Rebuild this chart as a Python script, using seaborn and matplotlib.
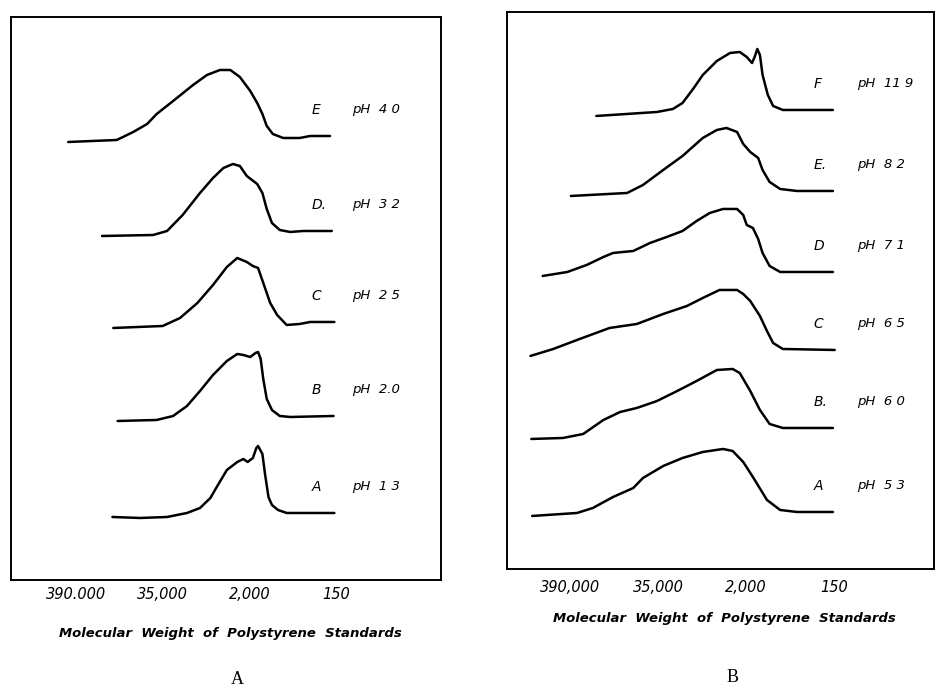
import numpy as np
import pandas as pd
import matplotlib
matplotlib.use("Agg")
import matplotlib.pyplot as plt
import seaborn as sns

# ---------------- data (elution position in tick units, detector response) -------------
tick_pos = [0, 1, 2, 3]
tick_labels_a = ["390.000", "35,000", "2,000", "150"]
tick_labels_b = ["390,000", "35,000", "2,000", "150"]

# Panel A
a_E_x = [-0.09, 0.47, 0.66, 0.82, 0.93, 1.12, 1.35, 1.51, 1.66, 1.78, 1.89, 2.01, 2.09, 2.15, 2.20, 2.27, 2.39, 2.58, 2.70, 2.93]
a_E_y = [43.8, 44.0, 44.8, 45.6, 46.6, 47.9, 49.5, 50.5, 51.0, 51.0, 50.3, 48.9, 47.7, 46.6, 45.4, 44.6, 44.2, 44.2, 44.4, 44.4]
a_D_x = [0.30, 0.89, 1.05, 1.23, 1.43, 1.58, 1.70, 1.81, 1.89, 1.97, 2.03, 2.09, 2.15, 2.20, 2.26, 2.35, 2.47, 2.62, 2.95]
a_D_y = [34.4, 34.5, 34.9, 36.5, 38.7, 40.2, 41.2, 41.6, 41.4, 40.4, 40.0, 39.6, 38.7, 37.1, 35.7, 35.0, 34.8, 34.9, 34.9]
a_C_x = [0.43, 1.00, 1.20, 1.40, 1.58, 1.74, 1.86, 1.97, 2.04, 2.10, 2.16, 2.24, 2.32, 2.43, 2.58, 2.70, 2.98]
a_C_y = [25.2, 25.4, 26.2, 27.7, 29.5, 31.3, 32.2, 31.8, 31.4, 31.2, 29.7, 27.7, 26.5, 25.5, 25.6, 25.8, 25.8]
a_B_x = [0.48, 0.93, 1.12, 1.28, 1.43, 1.58, 1.74, 1.86, 1.93, 2.01, 2.07, 2.10, 2.13, 2.16, 2.20, 2.26, 2.35, 2.47, 2.97]
a_B_y = [15.9, 16.0, 16.4, 17.4, 18.9, 20.5, 21.9, 22.6, 22.5, 22.3, 22.7, 22.8, 22.1, 20.1, 18.1, 17.0, 16.4, 16.3, 16.4]
a_A_x = [0.42, 0.74, 1.05, 1.28, 1.43, 1.55, 1.63, 1.74, 1.86, 1.93, 1.98, 2.04, 2.08, 2.10, 2.15, 2.18, 2.22, 2.26, 2.33, 2.43, 2.58, 2.98]
a_A_y = [6.3, 6.2, 6.3, 6.7, 7.2, 8.2, 9.4, 11.0, 11.8, 12.1, 11.8, 12.2, 13.2, 13.4, 12.6, 10.6, 8.3, 7.5, 7.0, 6.7, 6.7, 6.7]
a_letters = ["E", "D.", "C", "B", "A"]
a_ph = ["pH  4 0", "pH  3 2", "pH  2 5", "pH  2.0", "pH  1 3"]

# Panel B
b_F_x = [0.30, 0.99, 1.17, 1.28, 1.40, 1.51, 1.67, 1.82, 1.93, 2.01, 2.07, 2.10, 2.13, 2.16, 2.19, 2.25, 2.31, 2.42, 2.65, 2.99]
b_F_y = [45.3, 45.7, 46.0, 46.6, 48.0, 49.4, 50.8, 51.6, 51.7, 51.2, 50.6, 51.2, 52.0, 51.4, 49.4, 47.4, 46.3, 45.9, 45.9, 45.9]
b_E_x = [0.01, 0.65, 0.83, 1.06, 1.28, 1.51, 1.67, 1.78, 1.90, 1.97, 2.05, 2.14, 2.19, 2.27, 2.39, 2.58, 2.99]
b_E_y = [37.3, 37.6, 38.4, 39.9, 41.3, 43.1, 43.9, 44.1, 43.7, 42.5, 41.7, 41.1, 39.9, 38.7, 38.0, 37.8, 37.8]
b_D_x = [-0.31, -0.03, 0.19, 0.38, 0.49, 0.72, 0.91, 1.10, 1.28, 1.44, 1.59, 1.74, 1.90, 1.97, 2.01, 2.08, 2.14, 2.19, 2.27, 2.39, 2.58, 2.99]
b_D_y = [29.3, 29.7, 30.4, 31.2, 31.6, 31.8, 32.6, 33.2, 33.8, 34.8, 35.6, 36.0, 36.0, 35.4, 34.4, 34.1, 33.0, 31.6, 30.3, 29.7, 29.7, 29.7]
b_C_x = [-0.45, -0.19, 0.11, 0.45, 0.76, 1.06, 1.33, 1.51, 1.70, 1.90, 1.97, 2.05, 2.16, 2.24, 2.31, 2.42, 3.01]
b_C_y = [21.3, 22.0, 23.0, 24.1, 24.5, 25.5, 26.3, 27.1, 27.9, 27.9, 27.5, 26.8, 25.3, 23.8, 22.6, 22.0, 21.9]
b_B_x = [-0.44, -0.08, 0.15, 0.38, 0.57, 0.76, 0.99, 1.22, 1.44, 1.67, 1.85, 1.93, 2.05, 2.16, 2.27, 2.42, 2.99]
b_B_y = [13.0, 13.1, 13.5, 14.9, 15.7, 16.1, 16.8, 17.8, 18.8, 19.9, 20.0, 19.6, 17.8, 15.9, 14.5, 14.1, 14.1]
b_A_x = [-0.43, 0.08, 0.26, 0.49, 0.72, 0.83, 1.06, 1.28, 1.51, 1.74, 1.85, 1.97, 2.08, 2.24, 2.39, 2.58, 2.99]
b_A_y = [5.3, 5.6, 6.1, 7.2, 8.1, 9.1, 10.3, 11.1, 11.7, 12.0, 11.8, 10.7, 9.2, 6.9, 5.9, 5.7, 5.7]
b_letters = ["F", "E.", "D", "C", "B.", "A"]
b_ph = ["pH  11 9", "pH  8 2", "pH  7 1", "pH  6 5", "pH  6 0", "pH  5 3"]

xlabel_text = "Molecular  Weight  of  Polystyrene  Standards"


def make_df(xs, ys, names):
    rows = []
    for x, y, n in zip(xs, ys, names):
        for xi, yi in zip(x, y):
            rows.append((n, xi, yi))
    return pd.DataFrame(rows, columns=["trace", "elution", "response"])


df_a = make_df([a_E_x, a_D_x, a_C_x, a_B_x, a_A_x], [a_E_y, a_D_y, a_C_y, a_B_y, a_A_y], a_letters)
df_b = make_df([b_F_x, b_E_x, b_D_x, b_C_x, b_B_x, b_A_x],
               [b_F_y, b_E_y, b_D_y, b_C_y, b_B_y, b_A_y], b_letters)

sns.set_style("white")
plt.rcParams["font.family"] = ["DejaVu Sans"]
plt.rcParams["text.color"] = "black"
plt.rcParams["xtick.color"] = "black"
plt.rcParams["axes.labelcolor"] = "black"

fig = plt.figure(figsize=(9.36, 6.88), dpi=100)
ax_a = fig.add_axes([0.01175, 0.1570, 0.4594, 0.8183])
ax_b = fig.add_axes([0.5417, 0.1730, 0.4562, 0.8096])


def style_panel(ax, df, letters, phs, ticklabels, xlim, ylim, pad, label_y, letter_x, ph_x):
    sns.lineplot(data=df, x="elution", y="response", units="trace", estimator=None,
                 sort=False, color="black", linewidth=1.8, ax=ax,
                 solid_joinstyle="round", solid_capstyle="round")
    ax.set_xlim(*xlim)
    ax.set_ylim(*ylim)
    ax.set_xticks(tick_pos)
    ax.set_xticklabels(ticklabels, fontsize=10.5, style="italic", color="black")
    ax.set_yticks([])
    ax.set_ylabel("")
    ax.tick_params(axis="x", direction="in", length=9, width=1.2, color="black", pad=pad)
    for s in ax.spines.values():
        s.set_visible(True)
        s.set_color("black")
        s.set_linewidth(1.4)
    ax.set_xlabel(xlabel_text, fontsize=9.5, fontweight="bold", style="italic", color="black")
    ax.xaxis.set_label_coords(0.51, label_y)
    for n, lt, ph in zip(df["trace"].unique(), letters, phs):
        yb = df.loc[df["trace"] == n, "response"].iloc[-1] + 2.6
        ax.text(letter_x, yb, lt, fontsize=10, style="italic", ha="left", va="center", color="black")
        ax.text(ph_x, yb, ph, fontsize=9.5, style="italic", ha="left", va="center", color="black")


style_panel(ax_a, df_a, a_letters, a_ph, tick_labels_a, (-0.75, 4.21), (0, 56.3), 5,
            -0.083, 2.72, 3.18)
style_panel(ax_b, df_b, b_letters, b_ph, tick_labels_b, (-0.716, 4.14), (0, 55.7), 8,
            -0.077, 2.77, 3.26)

fig.text(237 / 936, 1 - 680 / 688, "A", fontsize=13, family="Liberation Serif",
         ha="center", va="center", color="black")
fig.text(733 / 936, 1 - 678 / 688, "B", fontsize=13, family="Liberation Serif",
         ha="center", va="center", color="black")

fig.savefig("out.png", dpi=100)
